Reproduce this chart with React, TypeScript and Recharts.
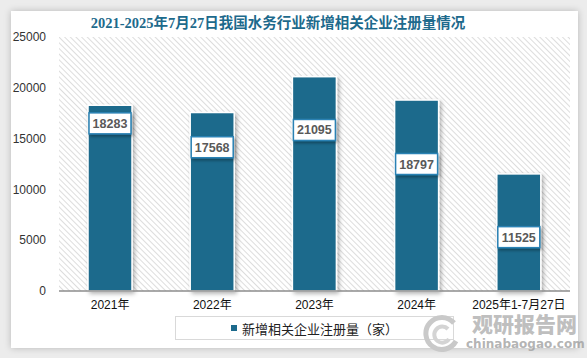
import React from 'react';
import { BarChart, Bar, XAxis, YAxis, CartesianGrid, LabelList, Legend } from 'recharts';

const categories = ['2021年', '2022年', '2023年', '2024年', '2025年1-7月27日'];
const registrations = [18283, 17568, 21095, 18797, 11525];
const yTicks = [0, 5000, 10000, 15000, 20000, 25000];
const seriesName = '新增相关企业注册量（家）';
const title = '2021-2025年7月27日我国水务行业新增相关企业注册量情况';

const data = categories.map((c, i) => ({ category: c, value: registrations[i] }));

// vertical level (in data units) where each value box sits inside its bar
const LABEL_LEVEL = [16500, 14150, 15850, 12500, 5300];

const BAR_COLOR = '#1c6a8c';
const FONT = '"Liberation Sans", "Noto Sans CJK SC", sans-serif';

const ValueLabel = (props: any) => {
  const { x, y, width, height, value, index } = props;
  const base = y + height;
  const ly = base - (LABEL_LEVEL[index] * height) / value;
  const cx = x + width / 2;
  const w = 42;
  const h = 21;
  return (
    <g>
      <rect
        x={cx - w / 2}
        y={ly - h / 2}
        width={w}
        height={h}
        fill="#ffffff"
        stroke="#2b82b4"
        strokeWidth={1.5}
        filter="url(#lblShadow)"
      />
      <text
        x={cx}
        y={ly + 4.5}
        textAnchor="middle"
        fontSize={12.5}
        fontWeight="bold"
        fill="#595959"
        fontFamily={FONT}
      >
        {value}
      </text>
    </g>
  );
};

const BarShape = (props: any) => {
  const { x, y, width, height } = props;
  return (
    <rect
      x={x}
      y={y}
      width={width}
      height={height}
      fill={BAR_COLOR}
      stroke="#ffffff"
      strokeWidth={1.5}
      filter="url(#barShadow)"
    />
  );
};

const LegendContent = () => (
  <div
    style={{
      boxSizing: 'border-box',
      width: '100%',
      height: '100%',
      border: '1px solid #d9d9d9',
      display: 'flex',
      alignItems: 'center',
      justifyContent: 'center',
      fontFamily: FONT,
      fontSize: 13,
      color: '#222',
    }}
  >
    <span
      style={{ display: 'inline-block', width: 6, height: 6, background: BAR_COLOR, marginRight: 5 }}
    />
    <span>{seriesName}</span>
  </div>
);

export default function App() {
  return (
    <div
      style={{
        position: 'absolute',
        left: 0,
        top: 0,
        width: 587,
        height: 358,
        background: '#ececec',
        overflow: 'hidden',
      }}
    >
      <svg width={0} height={0} style={{ position: 'absolute' }}>
        <defs>
          <pattern
            id="hatch"
            patternUnits="userSpaceOnUse"
            width={4}
            height={4}
            patternTransform="rotate(45)"
          >
            <rect width={4} height={4} fill="#ffffff" />
            <line x1={0} y1={0} x2={4} y2={0} stroke="#cfcfcf" strokeWidth={1.4} />
          </pattern>
          <filter id="barShadow" x="-30%" y="-10%" width="160%" height="120%">
            <feDropShadow dx={2} dy={2} stdDeviation={2} floodColor="#000" floodOpacity={0.3} />
          </filter>
          <filter id="lblShadow" x="-30%" y="-40%" width="160%" height="180%">
            <feDropShadow dx={1.5} dy={2} stdDeviation={1.5} floodColor="#000" floodOpacity={0.35} />
          </filter>
        </defs>
      </svg>
      <div
        style={{
          position: 'absolute',
          left: 11,
          top: 11,
          width: 567,
          height: 337,
          background: '#ffffff',
          boxShadow: '0 0 7px rgba(0,0,0,0.22)',
        }}
      />
      <div
        style={{
          position: 'absolute',
          left: 0,
          top: 14,
          width: 556,
          textAlign: 'center',
          fontFamily: '"Liberation Serif", "Noto Sans CJK SC", serif',
          fontWeight: 'bold',
          fontSize: 14.5,
          color: '#1d6a8c',
          lineHeight: '18px',
          whiteSpace: 'nowrap',
        }}
      >
        {title}
      </div>
      <div style={{ position: 'absolute', left: 0, top: 0 }}>
        <BarChart
          width={587}
          height={358}
          data={data}
          margin={{ top: 37, right: 17, left: 0, bottom: 0 }}
          barSize={44}
        >
          <CartesianGrid horizontal={false} vertical={false} fill="url(#hatch)" stroke="none" />
          <YAxis
            width={59}
            domain={[0, 25000]}
            ticks={yTicks}
            axisLine={false}
            tickLine={false}
            tickSize={0}
            tickMargin={13}
            tick={{ fontSize: 12, fill: '#333', fontFamily: FONT }}
            interval={0}
          />
          <XAxis
            dataKey="category"
            height={67}
            axisLine={{ stroke: '#8c8c8c', strokeWidth: 1.5 }}
            tickLine={false}
            tickSize={0}
            tickMargin={9}
            tick={{ fontSize: 12, fill: '#111', fontFamily: FONT }}
            interval={0}
          />
          <Legend
            layout="horizontal"
            verticalAlign="middle"
            align="center"
            wrapperStyle={{ left: 175, top: 316, width: 279, height: 24 }}
            content={<LegendContent />}
          />
          <Bar dataKey="value" name={seriesName} fill={BAR_COLOR} shape={<BarShape />} isAnimationActive={false}>
            <LabelList dataKey="value" content={<ValueLabel />} />
          </Bar>
        </BarChart>
      </div>
      <div style={{ position: 'absolute', left: 420, top: 311, width: 160, height: 46, pointerEvents: 'none' }}>
        <svg width={44} height={40} style={{ position: 'absolute', left: 0, top: 2 }}>
          <path d="M34 10 A16 16 0 1 0 36 28" fill="none" stroke="#c9c9c9" strokeWidth={5} />
          <path d="M28 16 A8 8 0 1 0 29 26" fill="none" stroke="#d4d4d4" strokeWidth={4} />
        </svg>
        <div
          style={{
            position: 'absolute',
            left: 52,
            top: 0,
            fontFamily: '"Noto Sans CJK SC", sans-serif',
            fontWeight: 900,
            fontSize: 21,
            lineHeight: '24px',
            color: 'rgba(170,170,170,0.75)',
            whiteSpace: 'nowrap',
          }}
        >
          观研报告网
        </div>
        <div
          style={{
            position: 'absolute',
            left: 46,
            top: 25,
            fontFamily: '"DejaVu Sans", sans-serif',
            fontWeight: 'bold',
            fontSize: 12,
            lineHeight: '16px',
            color: 'rgba(160,160,160,0.8)',
            whiteSpace: 'nowrap',
          }}
        >
          chinabaogao.com
        </div>
      </div>
    </div>
  );
}
